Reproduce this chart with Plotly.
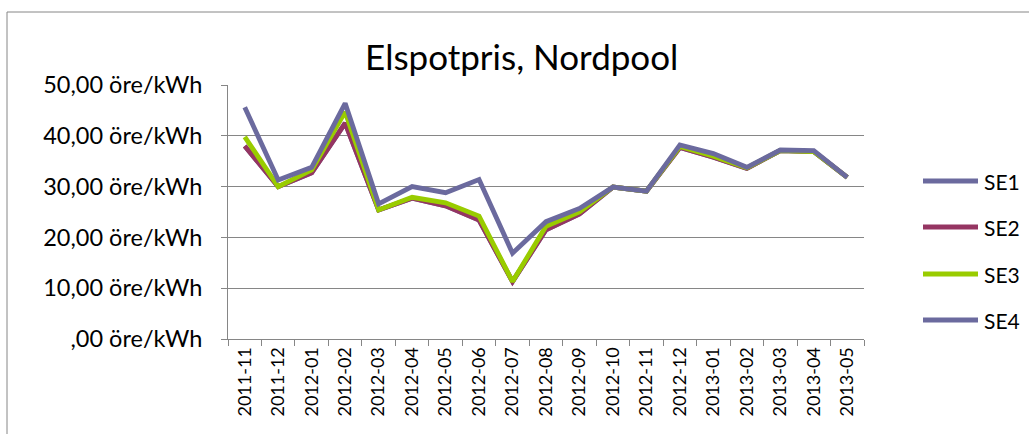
import plotly.graph_objects as go

months = ["2011-11", "2011-12", "2012-01", "2012-02", "2012-03", "2012-04", "2012-05",
          "2012-06", "2012-07", "2012-08", "2012-09", "2012-10", "2012-11", "2012-12",
          "2013-01", "2013-02", "2013-03", "2013-04", "2013-05"]

se1 = [38.0, 30.0, 32.7, 42.5, 25.4, 27.7, 26.2, 23.4, 11.3, 21.5, 24.6, 29.9, 29.1, 37.7, 35.8, 33.6, 37.1, 36.9, 31.8]
se2 = [38.0, 30.0, 32.7, 42.5, 25.4, 27.7, 26.2, 23.4, 11.3, 21.5, 24.6, 29.9, 29.1, 37.7, 35.8, 33.6, 37.1, 36.9, 31.8]
se3 = [39.8, 30.0, 33.3, 44.7, 25.4, 27.9, 26.8, 24.2, 11.3, 22.2, 25.0, 29.9, 29.1, 37.9, 36.0, 33.7, 37.1, 36.9, 31.8]
se4 = [45.6, 31.3, 33.8, 46.4, 26.6, 30.0, 28.8, 31.4, 16.9, 23.1, 25.7, 29.9, 29.1, 38.2, 36.5, 33.8, 37.2, 37.1, 31.8]

y_tickvals = [0, 10, 20, 30, 40, 50]
y_ticktext = [",00 öre/kWh", "10,00 öre/kWh", "20,00 öre/kWh", "30,00 öre/kWh",
              "40,00 öre/kWh", "50,00 öre/kWh"]

series_names = ["SE1", "SE2", "SE3", "SE4"]
series_values = [se1, se2, se3, se4]
series_colors = ["#6B6A9E", "#953562", "#99CC00", "#6B6A9E"]

FONT = "Lato, Liberation Sans, sans-serif"

# plot-area pixel geometry (for placing the legend in paper coordinates)
PL, PR, PT, PB = 228, 864, 85, 339
def px_x(p):
    return (p - PL) / (PR - PL)
def px_y(p):
    return (PB - p) / (PB - PT)

fig = go.Figure()
for name, vals, col in zip(series_names, series_values, series_colors):
    fig.add_trace(go.Scatter(x=months, y=vals, name=name, mode="lines",
                             line=dict(color=col, width=4.8)))

fig.update_layout(
    width=1029, height=434,
    margin=dict(l=PL, r=1029 - PR, t=PT, b=434 - PB, autoexpand=False),
    paper_bgcolor="white", plot_bgcolor="white",
    font=dict(family=FONT, color="#000000", size=22),
    title=dict(text="Elspotpris, Nordpool", x=0.507, xanchor="center",
               y=0.868, yanchor="middle", font=dict(size=35, family=FONT)),
    showlegend=False,
    xaxis=dict(type="category", tickangle=-90, tickson="boundaries",
               ticks="outside", ticklen=6, tickcolor="#868686",
               showline=True, linecolor="#868686", linewidth=1,
               showgrid=False, tickfont=dict(size=18, family=FONT),
               range=[-0.5, 18.5]),
    yaxis=dict(range=[0, 50], tickvals=y_tickvals, ticktext=y_ticktext,
               ticks="outside", ticklen=6, tickcolor="#868686",
               showline=True, linecolor="#868686", linewidth=1,
               showgrid=True, gridcolor="#868686", gridwidth=1,
               zeroline=False, tickfont=dict(size=23.5, family=FONT),
               ticklabelstandoff=14),
)

# legend (drawn as line samples + labels)
legend_rows = [181, 227, 274, 320]
for name, col, row in zip(series_names, series_colors, legend_rows):
    fig.add_shape(type="line", xref="paper", yref="paper",
                  x0=px_x(923), x1=px_x(978), y0=px_y(row), y1=px_y(row),
                  line=dict(color=col, width=4.8))
    fig.add_annotation(xref="paper", yref="paper", x=px_x(982), y=px_y(row),
                       text=name, showarrow=False, xanchor="left", yanchor="middle",
                       font=dict(size=21, family=FONT, color="#000000"))

# outer chart border
fig.add_shape(type="rect", xref="paper", yref="paper",
              x0=px_x(7), x1=px_x(1040), y0=px_y(445), y1=px_y(12),
              line=dict(color="#868686", width=1), layer="below")

fig.write_html("out.html", config={"displayModeBar": False},
               post_script="document.body.style.margin='0px';document.body.style.overflow='hidden';")
